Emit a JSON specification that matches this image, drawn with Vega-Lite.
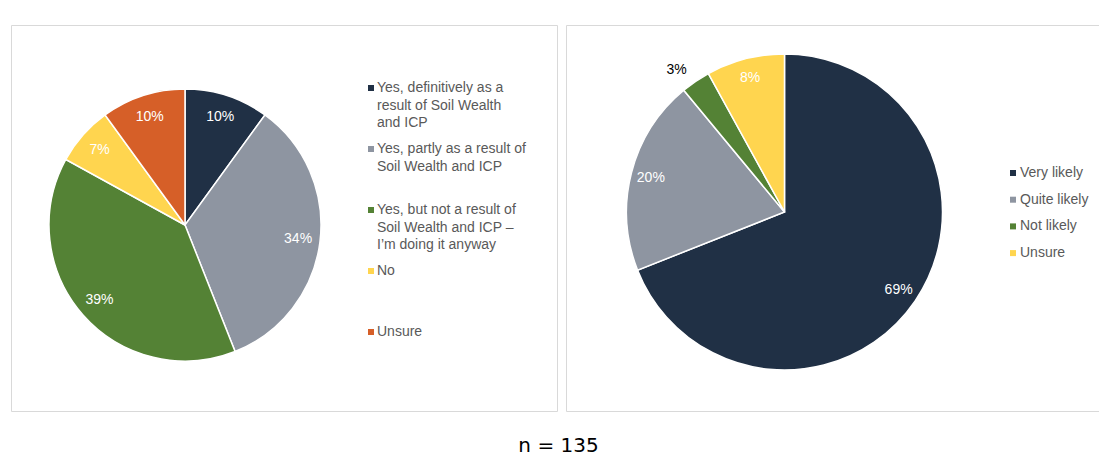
{
  "$schema": "https://vega.github.io/schema/vega-lite/v6.json",
  "padding": {"left": 10, "top": 24, "right": 0, "bottom": 2},
  "background": "white",
  "title": {"text": "n = 135", "orient": "bottom", "anchor": "middle", "font": "DejaVu Sans", "fontSize": 20, "fontWeight": "normal", "color": "#000000", "offset": 24},
  "spacing": 7,
  "config": {
    "view": {"stroke": "#d9d9d9", "strokeWidth": 1},
    "style": {"guide-label": {"dy": -7, "lineHeight": 17.5}}
  },
  "resolve": {"scale": {"color": "independent", "theta": "independent"}, "legend": {"color": "independent"}},
  "hconcat": [
    {
      "width": 546,
      "height": 386,
      "view": {"stroke": "#d9d9d9", "strokeWidth": 1, "fill": "white"},
      "data": {"values": [
        {"cat": "Yes, definitively as a|result of Soil Wealth|and ICP", "pct": 10, "ord": 1, "label": "10%"},
        {"cat": "Yes, partly as a result of|Soil Wealth and ICP", "pct": 34, "ord": 2, "label": "34%"},
        {"cat": "Yes, but not a result of|Soil Wealth and ICP –|I’m doing it anyway", "pct": 39, "ord": 3, "label": "39%"},
        {"cat": "No", "pct": 7, "ord": 4, "label": "7%"},
        {"cat": "Unsure", "pct": 10, "ord": 5, "label": "10%"}
      ]},
      "encoding": {
        "theta": {"field": "pct", "type": "quantitative", "stack": true},
        "order": {"field": "ord", "type": "quantitative"}
      },
      "layer": [
        {
          "mark": {"type": "arc", "x": 174, "y": 200, "outerRadius": 136, "stroke": "white", "strokeWidth": 1.5},
          "encoding": {
            "color": {
              "field": "cat", "type": "nominal",
              "scale": {
                "domain": ["Yes, definitively as a|result of Soil Wealth|and ICP", "Yes, partly as a result of|Soil Wealth and ICP", "Yes, but not a result of|Soil Wealth and ICP –|I’m doing it anyway", "No", "Unsure"],
                "range": ["#203045", "#8e95a1", "#548235", "#ffd54f", "#d65f28"]
              },
              "legend": {
                "orient": "none", "legendX": 353, "legendY": 56, "title": null,
                "symbolType": "square", "symbolSize": 36, "symbolStrokeWidth": 0,
                "labelFont": "Liberation Sans", "labelFontSize": 14, "labelColor": "#595959",
                "labelLimit": 400, "labelOffset": -1, "gridAlign": "all", "rowPadding": 12,
                "labelBaseline": "top", "padding": 0,
                "labelExpr": "split(datum.label, '|')"
              }
            }
          }
        },
        {
          "mark": {"type": "text", "x": 174, "y": 200, "radius": 114, "font": "Liberation Sans", "fontSize": 14, "fill": "white"},
          "encoding": {"text": {"field": "label", "type": "nominal"}}
        }
      ]
    },
    {
      "width": 540,
      "height": 386,
      "view": {"stroke": "#d9d9d9", "strokeWidth": 1, "fill": "white"},
      "data": {"values": [
        {"cat": "Very likely", "pct": 69, "ord": 1, "label": "69%"},
        {"cat": "Quite likely", "pct": 20, "ord": 2, "label": "20%"},
        {"cat": "Not likely", "pct": 3, "ord": 3, "label": "3%"},
        {"cat": "Unsure", "pct": 8, "ord": 4, "label": "8%"}
      ]},
      "encoding": {
        "theta": {"field": "pct", "type": "quantitative", "stack": true},
        "order": {"field": "ord", "type": "quantitative"}
      },
      "layer": [
        {
          "mark": {"type": "arc", "x": 218.5, "y": 187, "outerRadius": 158, "stroke": "white", "strokeWidth": 1.5},
          "encoding": {
            "color": {
              "field": "cat", "type": "nominal",
              "scale": {
                "domain": ["Very likely", "Quite likely", "Not likely", "Unsure"],
                "range": ["#203045", "#8e95a1", "#548235", "#ffd54f"]
              },
              "legend": {
                "orient": "none", "legendX": 440, "legendY": 141, "title": null,
                "symbolType": "square", "symbolSize": 36, "symbolStrokeWidth": 0,
                "labelFont": "Liberation Sans", "labelFontSize": 14, "labelColor": "#595959",
                "labelLimit": 300, "labelOffset": 0, "rowPadding": 12.7,
                "labelBaseline": "top", "padding": 0
              }
            }
          }
        },
        {
          "mark": {"type": "text", "x": 218.5, "y": 187, "radius": 138, "font": "Liberation Sans", "fontSize": 14, "fill": "white"},
          "encoding": {
            "text": {"field": "label", "type": "nominal"},
            "opacity": {"condition": {"test": "datum.cat === 'Not likely'", "value": 0}, "value": 1}
          }
        },
        {
          "mark": {"type": "text", "x": 218.5, "y": 187, "radius": 174, "dx": -10, "dy": 2, "font": "Liberation Sans", "fontSize": 14, "fill": "black"},
          "encoding": {
            "text": {"field": "label", "type": "nominal"},
            "opacity": {"condition": {"test": "datum.cat === 'Not likely'", "value": 1}, "value": 0}
          }
        }
      ]
    }
  ]
}
